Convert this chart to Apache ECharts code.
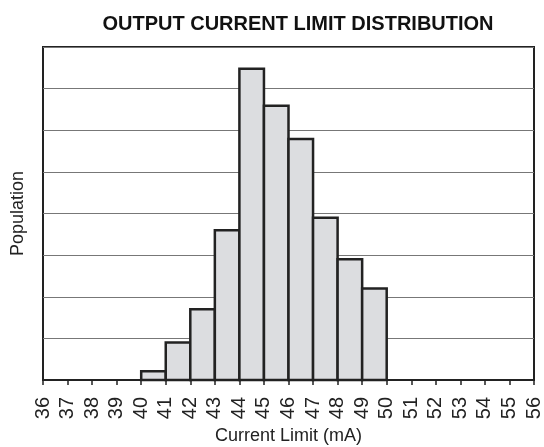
<!DOCTYPE html>
<html><head><meta charset="utf-8">
<script src="https://cdn.jsdelivr.net/npm/echarts@6/dist/echarts.min.js"></script>
<style>html,body{margin:0;padding:0;background:#fff}#c{width:544px;height:447px}</style>
</head><body><div id="c"></div>
<script>
const binStart = [40, 41, 42, 43, 44, 45, 46, 47, 48, 49];
const binEnd   = [41, 42, 43, 44, 45, 46, 47, 48, 49, 50];
const population = [0.21, 0.90, 1.70, 3.60, 7.48, 6.59, 5.79, 3.90, 2.90, 2.20];
const xMin = 36, xMax = 56;

const data = binStart.map((s, i) => [s, binEnd[i], population[i]]);
const chart = echarts.init(document.getElementById('c'), null, {renderer: 'canvas'});
const font = 'Liberation Sans, Arial, Helvetica, sans-serif';
chart.setOption({
  animation: false,
  backgroundColor: '#fff',
  title: {
    text: 'OUTPUT CURRENT LIMIT DISTRIBUTION',
    left: 293, textAlign: 'center', top: 9,
    textStyle: {fontFamily: font, fontSize: 20, fontWeight: 'bold', color: '#111'}
  },
  grid: {left: 43, right: 10, top: 47, bottom: 67, show: true, borderColor: '#222', borderWidth: 2, backgroundColor: 'transparent', outerBoundsMode: 'none', containLabel: false},
  xAxis: {
    type: 'value', min: xMin, max: xMax, interval: 1,
    name: 'Current Limit (mA)', nameLocation: 'middle', nameGap: 45,
    nameTextStyle: {fontFamily: font, fontSize: 18, color: '#222'},
    axisLine: {show: true, lineStyle: {color: '#222', width: 2}},
    axisTick: {show: true, length: 5, lineStyle: {color: '#222', width: 1.5}},
    axisLabel: {rotate: 90, margin: 17, fontFamily: font, fontSize: 20, color: '#222'},
    splitLine: {show: false}
  },
  yAxis: {
    type: 'value', min: 0, max: 8, interval: 1,
    name: 'Population', nameLocation: 'middle', nameGap: 16, nameRotate: 90,
    nameTextStyle: {fontFamily: font, fontSize: 18, color: '#222'},
    axisLine: {show: false}, axisTick: {show: false}, axisLabel: {show: false},
    splitLine: {show: true, lineStyle: {color: '#777', width: 1}}
  },
  series: [{
    type: 'custom',
    data: data,
    renderItem: function (params, api) {
      const p0 = api.coord([api.value(0), 0]);
      const p1 = api.coord([api.value(1), api.value(2)]);
      return {
        type: 'rect',
        shape: {x: p0[0], y: p1[1], width: p1[0] - p0[0], height: p0[1] - p1[1]},
        style: {fill: '#dcdde0', stroke: '#222', lineWidth: 2.5}
      };
    },
    encode: {x: [0, 1], y: 2}
  }]
});
</script></body></html>
